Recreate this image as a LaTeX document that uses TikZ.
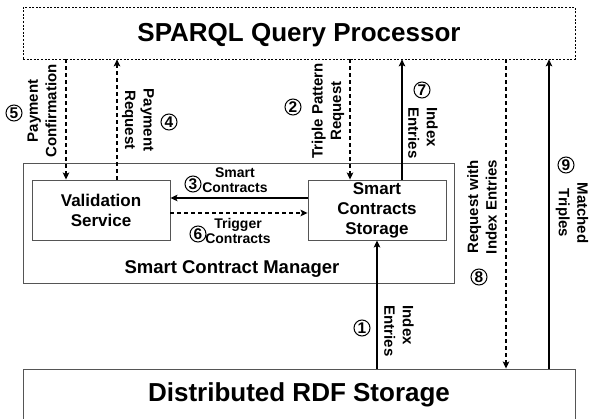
\documentclass[tikz,border=0pt]{standalone}
\usepackage{fontspec}
\setmainfont{Liberation Sans}
\usetikzlibrary{arrows.meta}
\definecolor{boxgray}{HTML}{555555}
\tikzset{
  box/.style={draw=boxgray, line width=0.9pt, rectangle, inner sep=0pt, align=center, font=\bfseries\fontsize{17}{20}\selectfont},
  dbox/.style={draw=black, line width=0.7pt, dash pattern=on 2pt off 1.6pt, rectangle, inner sep=0pt},
  conn/.style={line width=1.2pt, -{Stealth[length=7pt,width=6.5pt,inset=1.5pt]}},
  dconn/.style={conn, dash pattern=on 4pt off 3pt},
  vlab/.style={align=center, inner sep=1pt, font=\bfseries\fontsize{15}{18.5}\selectfont},
  hlab/.style={align=center, inner sep=1pt, font=\bfseries\fontsize{14}{15.5}\selectfont},
  circ/.style={circle, draw=black, line width=1pt, minimum size=16pt, inner sep=0pt, font=\bfseries\fontsize{15.5}{15.5}\selectfont},
  title/.style={font=\bfseries\fontsize{26}{29}\selectfont, inner sep=0pt}
}
\begin{document}
\begin{tikzpicture}[x=1pt,y=-1pt]
\useasboundingbox (0,0) rectangle (589,419);
\clip (0,0) rectangle (589,419);
% boxes
\node[dbox, minimum width=552pt, minimum height=52pt] (sparql) at (299,33) {};
\node[title] at (299,35) {SPARQL Query Processor};
\node[box, minimum width=431pt, minimum height=120pt] (mgr) at (238.5,223) {};
\node[box, font=\bfseries\fontsize{18.5}{20}\selectfont, draw=none] (mgrlab) at (232,269) {Smart Contract Manager};
\node[box, minimum width=138pt, minimum height=60pt] (val) at (101,210) {Validation\\Service};
\node[box, minimum width=138pt, minimum height=60pt] (scs) at (377,210) {Smart\\Contracts\\Storage};
\node[box, minimum width=552pt, minimum height=80pt] (rdf) at (299,409) {};
\node[title] at (299,395) {Distributed RDF Storage};
% x positions
\coordinate (x5) at (66,0);
\coordinate (x4) at (117,0);
\coordinate (x2) at (350,0);
\coordinate (x7) at (402,0);
\coordinate (x1) at (377,0);
\coordinate (x8) at (506,0);
\coordinate (x9) at (549,0);
\coordinate (y3) at (0,198);
\coordinate (y6) at (0,213);
% connectors
\draw[dconn] (sparql.south -| x5) -- (val.north -| x5);
\draw[dconn] (val.north -| x4) -- (sparql.south -| x4);
\draw[dconn] (sparql.south -| x2) -- (scs.north -| x2);
\draw[conn] (scs.north -| x7) -- (sparql.south -| x7);
\draw[conn] (scs.west |- y3) -- (val.east |- y3);
\draw[dconn] (val.east |- y6) -- (scs.west |- y6);
\draw[conn] (rdf.north -| x1) -- (scs.south -| x1);
\draw[dconn] (sparql.south -| x8) -- (rdf.north -| x8);
\draw[conn] (rdf.north -| x9) -- (sparql.south -| x9);
% labels
\node[vlab, rotate=90] (l5) at (42,111) {Payment\\Confirmation};
\node[circ] (c5) at (14,113) {5};
\node[vlab, rotate=-90] (l4) at (138,120) {Payment\\Request};
\node[circ] (c4) at (169,122) {4};
\node[vlab, rotate=90] (l2) at (328,111) {Triple Pattern\\Request};
\node[circ] (c2) at (293,107) {2};
\node[vlab, rotate=-90, align=left] (l7) at (423,133) {Index\\Entries};
\node[circ] (c7) at (422,90) {7};
\node[hlab, fill=white] (l3) at (235,180) {Smart\\Contracts};
\node[circ, fill=white] (c3) at (193,184) {3};
\node[hlab] (l6) at (238,231) {Trigger\\Contracts};
\node[circ, fill=white] (c6) at (198,234) {6};
\node[vlab, rotate=-90, align=left] (l1) at (399,331) {Index\\Entries};
\node[circ] (c1) at (362,328) {1};
\node[vlab, rotate=90] (l8) at (482,207) {Request with\\Index Entries};
\node[circ] (c8) at (479,277) {8};
\node[vlab, rotate=-90] (l9) at (572,213) {Matched\\Triples};
\node[circ] (c9) at (566,165) {9};
\end{tikzpicture}
\end{document}
